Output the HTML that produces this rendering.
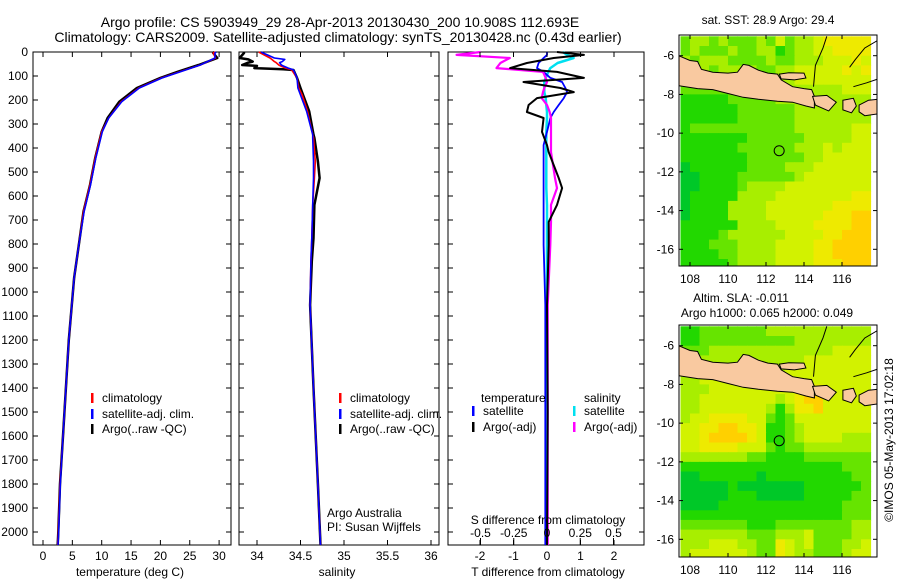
<!DOCTYPE html>
<html><head><meta charset="utf-8"><style>
html,body{margin:0;padding:0;background:#fff;width:900px;height:580px;overflow:hidden}
svg text{font-family:"Liberation Sans",sans-serif;font-size:12px;fill:#000}
svg text.title{font-size:14px}
</style></head><body>
<svg id="fig" width="900" height="580" xmlns="http://www.w3.org/2000/svg">
<text class="title" x="340" y="27" text-anchor="middle">Argo profile: CS 5903949_29 28-Apr-2013 20130430_200 10.908S 112.693E</text>
<text class="title" x="338" y="42" text-anchor="middle">Climatology: CARS2009. Satellite-adjusted climatology: synTS_20130428.nc (0.43d earlier)</text>
<g id="g"></g>
</svg>
<script>
// ---- temperature profile ----
const tempDepths = [0,4,25,54,82,108,150,207,275,332,442,554,665,804,942,1054,1200,1400,1600,1800,2000,2054];
const tempArgo = [29.2,29.0,29.7,26.5,23.0,20.0,16.0,13.0,11.0,10.0,8.9,8.0,6.9,6.1,5.3,4.9,4.4,3.9,3.4,2.9,2.6,2.5];
const tempClim = [29.3,29.0,29.4,26.8,23.3,20.2,16.3,13.3,11.2,10.0,8.9,8.0,6.9,6.1,5.3,4.9,4.4,3.9,3.4,2.9,2.6,2.5];
const tempSat  = [29.5,29.3,29.3,26.8,23.4,20.3,16.4,13.4,11.2,10.1,9.0,8.1,7.0,6.1,5.3,4.9,4.4,3.9,3.4,2.95,2.65,2.55];
// ---- salinity profile ----
const salDepths = [0,4,25,31,40,44,54,58,67,72,75,108,150,179,247,344,358,456,525,637,775,872,1054,1400,1800,2054];
const salSat  = [34.05,34.07,34.2,34.32,34.29,34.26,34.28,34.3,34.36,34.4,34.42,34.46,34.47,34.5,34.57,34.64,34.64,34.65,34.65,34.64,34.63,34.62,34.61,34.65,34.7,34.73];
const salClim = [34.02,34.04,34.15,34.17,34.2,34.22,34.25,34.27,34.33,34.38,34.4,34.46,34.48,34.52,34.58,34.64,34.65,34.67,34.66,34.64,34.63,34.62,34.61,34.65,34.7,34.73];
const salArgo = [33.85,33.85,33.8,33.9,33.95,33.9,33.83,34.0,33.97,34.3,34.42,34.46,34.5,34.53,34.6,34.65,34.66,34.7,34.72,34.66,34.65,34.63,34.61,34.65,34.7,34.73];
// ---- differences ----
const diffDepths = [0,12,25,46,67,83,108,125,150,167,192,221,250,275,333,388,417,525,567,637,708,804,1054,1500,2054];
const tDiffArgo = [0.3,1.1,0.2,-0.6,-1.1,0.3,1.1,-0.7,0.4,0.8,-0.3,-0.55,-0.6,-0.1,-0.15,0,0.05,0.35,0.45,0.3,0.05,0.05,0,0.02,0];
const sDiffArgo = [-0.5,-0.68,-0.28,-0.35,-0.38,-0.03,-0.01,0,-0.02,-0.03,-0.04,0,0.02,0.03,0.03,0.03,0.03,0.06,0.075,0.03,0.03,0.025,0.005,0.005,0.005];
const tDiffSat  = [0,0,-0.1,-0.25,-0.3,-0.1,0.1,0.45,0.55,0.6,0.5,0.35,0.2,0.1,0,-0.1,-0.1,-0.1,-0.1,-0.1,-0.1,-0.1,-0.05,-0.05,-0.05];
const sDiffSat  = [0.12,0.15,0.2,0.08,0.025,0.01,-0.01,-0.02,-0.02,-0.02,-0.01,-0.005,0,0,-0.005,-0.005,-0.005,-0.005,-0.005,0,0,0,0,0,0];
const depthTicks = [0,100,200,300,400,500,600,700,800,900,1000,1100,1200,1300,1400,1500,1600,1700,1800,1900,2000];
const tempTicks = [0,5,10,15,20,25,30];
const salTicks = [34,34.5,35,35.5,36];
const salTickLabels = ["34","34.5","35","35.5","36"];
const tdTicks = [-2,-1,0,1,2];
const sdTicks = [-0.5,-0.25,0,0.25,0.5];
const sdTickLabels = ["-0.5","-0.25","0","0.25","0.5"];
const lonTicks = [108,110,112,114,116];
const latTicks = [-6,-8,-10,-12,-14,-16];
// ---- map grids (0.5 deg cells, rows from -5 southward, cols from 107.5 eastward) ----
const sstGrid = [
"45545444546455677777","45444544553455667777","54555444454455566676","55545555445566666767",
"44444445555566666666","44444445555555555666","33333444445555555555","33333344444455555555",
"33333344444455555555","34444444444455555566","33333334444445555566","33333344444455565666",
"33333334444445566666","23333334444555666666","22333344444456666666","22333345555666666666",
"23333355556666666677","23333555566666667777","23333555566666677788","33333355556666777788",
"33334555555666677888","33344455556666778888","33334455556666778888","33333455556666777888"];
const slaGrid = [
"33444444455555555555","33444444444455555555","44455555555555556666","44555555555556666666",
"55555555555666666666","55666666666666666666","55566666666677766666","55666666665678866666",
"55666666653577866666","56677776643466666666","66778877633456666666","66788887633456666555",
"66777766643445555555","55555554433334444444","33333333333333333444","22333333233333333344",
"22222322222223333334","22222333222223333344","22223333333333333444","33333333333333333444",
"44444443334444444455","55555554445556444455","55566655447656444556","56666665447655444566"];
const gridLon0 = 107.5, gridLat0 = -5, cell = 0.5;
const palette = ["#009a40","#00b040","#00c828","#22d800","#66e400","#a8ee00","#d2f200","#eeea00","#ffd000","#ffb000"];
const javaCoast = [[107.4,-6.0],[108,-6.25],[108.4,-6.3],[108.6,-6.7],[109.2,-6.85],[110,-6.9],[110.5,-6.85],[110.8,-6.45],[111.1,-6.5],[111.6,-6.75],[112.1,-6.9],[112.6,-6.95],[112.8,-7.25],[113.4,-7.6],[114.0,-7.7],[114.4,-7.75],[114.55,-8.1],[114.55,-8.7],[114.1,-8.6],[113.4,-8.4],[112.6,-8.35],[111.6,-8.25],[110.8,-8.15],[110.0,-7.95],[109.2,-7.75],[108.4,-7.7],[107.4,-7.55]];
const madura = [[112.7,-6.95],[113.2,-6.88],[114.0,-6.9],[114.1,-7.15],[113.5,-7.25],[112.8,-7.2]];
const bali = [[114.45,-8.1],[115.2,-8.05],[115.7,-8.4],[115.3,-8.85],[114.6,-8.55]];
const lombok = [[116.05,-8.3],[116.6,-8.2],[116.75,-8.6],[116.5,-8.95],[116.05,-8.8]];
const sumbawa = [[116.9,-8.55],[117.4,-8.3],[117.9,-8.25],[117.9,-9.0],[117.2,-9.1],[116.9,-8.9]];
const argoPos = [112.693,-10.908];

const NS="http://www.w3.org/2000/svg", G=document.getElementById('g');
function el(t,a,p){const e=document.createElementNS(NS,t);for(const k in a)e.setAttribute(k,a[k]);(p||G).appendChild(e);return e;}
function txt(x,y,s,anc,nm,p){const e=el('text',{x:x,y:y,'text-anchor':anc||'start'},p);e.textContent=s;return e;}
const TOP=52, BOT=545;
const yD=d=>TOP+d*0.24;
const P1={x0:33,x1:231}, P2={x0:239,x1:439}, P3={x0:448,x1:644};
const xT=v=>43+v*5.87, xS=v=>257+(v-34)*87, xTD=v=>547+v*33.5, xSD=v=>547+v*133;
function frame(P,nm){
  const r=el('rect',{x:P.x0,y:TOP,width:P.x1-P.x0,height:BOT-TOP,fill:'none',stroke:'#000','stroke-width':1});
  
  depthTicks.forEach(d=>{el('line',{x1:P.x0,x2:P.x0+5,y1:yD(d),y2:yD(d),stroke:'#000'});el('line',{x1:P.x1,x2:P.x1-5,y1:yD(d),y2:yD(d),stroke:'#000'});});
}
function line(ds,xs,fx,col,w,nm){
  const pts=ds.map((d,i)=>fx(xs[i]).toFixed(1)+','+yD(d).toFixed(1)).join(' ');
  const l=el('polyline',{points:pts,fill:'none',stroke:col,'stroke-width':w,'stroke-linejoin':'round'});
  
}
function xticks(ticks,labels,fx,ly){
  ticks.forEach((t,i)=>{const x=fx(t);el('line',{x1:x,x2:x,y1:BOT,y2:BOT-5,stroke:'#000'});el('line',{x1:x,x2:x,y1:TOP,y2:TOP+5,stroke:'#000'});
    txt(x,ly,labels[i],'middle','x-tick-label');});
}
// panel 1
frame(P1,'temperature-panel');
depthTicks.forEach(d=>txt(28,yD(d)+4,String(d),'end','depth-tick-label'));
line(tempDepths,tempArgo,xT,'#000',2.5,'temp-argo-line');line(tempDepths,tempClim,xT,'#f00',1.6,'temp-clim-line');line(tempDepths,tempSat,xT,'#00f',1.6,'temp-sat-line');
xticks(tempTicks,tempTicks.map(String),xT,560);
txt(130,576,'temperature (deg C)','middle','x-axis-title-temperature');
// panel 2
frame(P2,'salinity-panel');
line(salDepths,salArgo,xS,'#000',2.5,'sal-argo-line');line(salDepths,salClim,xS,'#f00',1.6,'sal-clim-line');line(salDepths,salSat,xS,'#00f',1.6,'sal-sat-line');
xticks(salTicks,salTickLabels,xS,560);
txt(337,576,'salinity','middle','x-axis-title-salinity');
txt(327,517,'Argo Australia','start','credit-line-1');txt(327,531,'PI: Susan Wijffels','start','credit-line-2');
// panel 3
frame(P3,'difference-panel');
line(diffDepths,sDiffSat,xSD,'#00e0f0',2.5,'sdiff-sat-line');line(diffDepths,tDiffSat,xTD,'#00f',1.8,'tdiff-sat-line');
line(diffDepths,sDiffArgo,xSD,'#f0f',2.2,'sdiff-argo-line');line(diffDepths,tDiffArgo,xTD,'#000',2,'tdiff-argo-line');
tdTicks.forEach(t=>{const x=xTD(t);el('line',{x1:x,x2:x,y1:BOT,y2:BOT-5,stroke:'#000'});el('line',{x1:x,x2:x,y1:TOP,y2:TOP+5,stroke:'#000'});txt(x,560,String(t),'middle','tdiff-tick-label');});
sdTicks.forEach((t,i)=>{const x=xSD(t);el('line',{x1:x,x2:x,y1:BOT,y2:BOT-7,stroke:'#000'});txt(x,537,sdTickLabels[i],'middle','sdiff-tick-label');});
txt(548,524,'S difference from climatology','middle','sdiff-axis-title');
txt(548,576,'T difference from climatology','middle','tdiff-axis-title');
// legends
function leg(x,y,col,label,nm){const b=el('rect',{x:x,y:y-9,width:2.5,height:10,fill:col});txt(x+11,y,label,'start',nm);}
[[P1,91],[P2,339]].forEach(([P,x])=>{leg(x,402,'#f00','climatology','legend-climatology');leg(x,418,'#00f','satellite-adj. clim.','legend-satellite');leg(x,433,'#000','Argo(..raw -QC)','legend-argo');});
txt(481,402,'temperature','start','legend-temperature-header');txt(584,402,'salinity','start','legend-salinity-header');
leg(472,415,'#00f','satellite','legend-t-satellite');leg(472,431,'#000','Argo(-adj)','legend-t-argo');
leg(573,415,'#00e0f0','satellite','legend-s-satellite');leg(573,431,'#f0f','Argo(-adj)','legend-s-argo');
// maps
function map(grid,top,bottom,yLat0,nm){
  const X0=679,X1=877;const fx=lon=>690+(lon-108)*19, fy=lat=>yLat0+(-6-lat)*19.36;
  const g=el('g',{});
  const cp=el('clipPath',{id:nm+'-clip'},g);el('rect',{x:X0,y:top,width:X1-X0,height:bottom-top},cp);
  const inner=el('g',{'clip-path':'url(#'+nm+'-clip)'},g);
  grid.forEach((row,r)=>{for(let c=0;c<row.length;c++){const lon=gridLon0+c*cell,lat=gridLat0-r*cell;
    const x=fx(lon),y=fy(lat);const rc=el('rect',{x:x.toFixed(1),y:y.toFixed(1),width:(cell*19+0.6).toFixed(1),height:(cell*19.36+0.6).toFixed(1),fill:palette[+row[c]]},inner);
    }});
  [javaCoast,madura,bali,lombok,sumbawa].forEach(poly=>{const p=el('polygon',{points:poly.map(q=>fx(q[0]).toFixed(1)+','+fy(q[1]).toFixed(1)).join(' '),fill:'#f9c9a0',stroke:'#000','stroke-width':1},inner);
    });
  el('polyline',{points:[[115.2,-5],[115.0,-5.6],[114.6,-6.5],[114.5,-7.6]].map(q=>fx(q[0])+','+fy(q[1])).join(' '),fill:'none',stroke:'#000'},inner);
  el('polyline',{points:[[117.9,-5.2],[117.2,-5.6],[116.7,-6.2],[116.4,-6.6]].map(q=>fx(q[0])+','+fy(q[1])).join(' '),fill:'none',stroke:'#000'},inner);
  el('polyline',{points:[[116.6,-7.6],[117.3,-7.4],[117.9,-7.2]].map(q=>fx(q[0])+','+fy(q[1])).join(' '),fill:'none',stroke:'#000'},inner);
  const c=el('circle',{cx:fx(argoPos[0]),cy:fy(argoPos[1]),r:5,fill:'none',stroke:'#000','stroke-width':1},g);
  
  el('rect',{x:X0,y:top,width:X1-X0,height:bottom-top,fill:'none',stroke:'#000'},g);
  lonTicks.forEach(l=>{const x=fx(l);el('line',{x1:x,x2:x,y1:bottom,y2:bottom-4,stroke:'#000'},g);el('line',{x1:x,x2:x,y1:top,y2:top+4,stroke:'#000'},g);txt(x,bottom+17,String(l),'middle','lon-tick-label',g);});
  latTicks.forEach(l=>{const y=fy(l);el('line',{x1:X0,x2:X0+4,y1:y,y2:y,stroke:'#000'},g);el('line',{x1:X1,x2:X1-4,y1:y,y2:y,stroke:'#000'},g);txt(X0-5,y+4,String(l),'end','lat-tick-label',g);});
}
map(sstGrid,35,266,55.7,'sst-map');
map(slaGrid,325,557,345.7,'sla-map');
txt(768,24,'sat. SST: 28.9  Argo: 29.4','middle','sst-map-title');
txt(741,302,'Altim. SLA: -0.011','middle','sla-map-title-1');
txt(767,317,'Argo h1000: 0.065 h2000: 0.049','middle','sla-map-title-2');
const r=txt(0,0,'\u00a9IMOS 05-May-2013 17:02:18','middle','imos-timestamp');
r.setAttribute('transform','translate(893,440) rotate(-90)');
</script>
</body></html>
